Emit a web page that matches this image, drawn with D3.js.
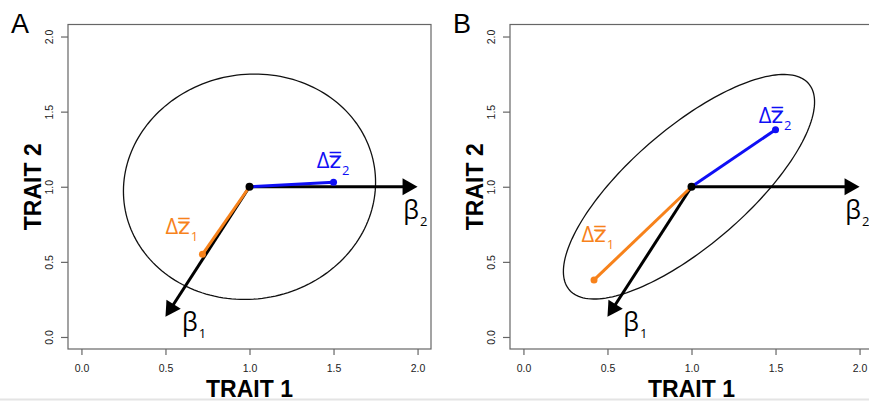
<!DOCTYPE html>
<html>
<head>
<meta charset="utf-8">
<script src="https://cdnjs.cloudflare.com/ajax/libs/d3/7.8.5/d3.min.js"></script>
<style>
body { margin: 0; background: #fff; }
svg { display: block; }
.tick text { font-family: "Liberation Sans", Arial, sans-serif; font-size: 10.5px; fill: #222; }
.tick line { stroke: #666; stroke-width: 1.2; }
.axisTitle { font-family: "Liberation Sans", Arial, sans-serif; font-weight: bold; font-size: 23px; }
.panelName { font-family: "Liberation Sans", Arial, sans-serif; font-size: 27px; }
.note { font-family: "Open Sans", "DejaVu Sans", sans-serif; font-size: 22px; }
</style>
</head>
<body>
<div id="chart"></div>
<script>
var svgWidth = 869;
var svgHeight = 401;

// data, in trait units
var panels = ["A", "B"];
var tickValues = [0, 0.5, 1, 1.5, 2];
var origin = [1, 1];
var beta1Tip = [0.5, 0.134];
var beta2Tip = [2.0, 1.0];
var dz1End = [[0.72, 0.55], [0.42, 0.38]];
var dz2End = [[1.5, 1.03], [1.5, 1.38]];
var ellCentre = [[1.0, 1.0], [0.985, 1.0]];
var ellAxes = [[0.765, 0.735], [0.99, 0.37]];
var ellAngle = [45, 45];

// where the annotations sit (trait units, left/baseline)
var dz1Label = [[0.5, 0.685], [0.345, 0.629]];
var dz2Label = [[1.4, 1.124], [1.4, 1.423]];
var beta1Label = [[0.598, 0.04], [0.594, 0.04]];
var beta2Label = [[1.915, 0.785], [1.915, 0.785]];

var frameLeft = [68, 510];
var frameW = 363;
var frameTop = 24.5;
var frameBottom = 349;

var orange = "#f7821b";
var blue = "#0f0ff5";

var svg = d3.select("#chart")
    .append("svg")
    .attr("width", svgWidth)
    .attr("height", svgHeight);

// faint page edge at the bottom
svg.append("line")
    .attr("x1", 0).attr("x2", svgWidth)
    .attr("y1", 399.5).attr("y2", 399.5)
    .attr("stroke", "#e4e4e4")
    .attr("stroke-width", 2);

var yScale = d3.scaleLinear()
    .domain([-0.08, 2.08])
    .range([frameBottom, frameTop]);

function drawArrow(g, x, y, from, to) {
    var x0 = x(from[0]), y0 = y(from[1]);
    var x1 = x(to[0]), y1 = y(to[1]);
    var dx = x1 - x0, dy = y1 - y0;
    var len = Math.sqrt(dx * dx + dy * dy);
    var ux = dx / len, uy = dy / len;
    var headL = 15, headW = 8.5;
    g.append("line")
        .attr("x1", x0).attr("y1", y0)
        .attr("x2", x1 - ux * (headL - 3)).attr("y2", y1 - uy * (headL - 3))
        .attr("stroke", "#000")
        .attr("stroke-width", 3);
    var bx = x1 - ux * headL, by = y1 - uy * headL;
    g.append("path")
        .attr("d", "M" + x1 + "," + y1 +
            "L" + (bx - uy * headW) + "," + (by + ux * headW) +
            "L" + (bx + uy * headW) + "," + (by - ux * headW) + "Z")
        .attr("fill", "#000");
}

function addLabel(g, x, y, pos, main, sub, color, size) {
    var t = g.append("text")
        .attr("class", "note")
        .attr("x", x(pos[0]))
        .attr("y", y(pos[1]))
        .attr("fill", color)
        .style("font-size", size + "px");
    t.append("tspan").text(main);
    t.append("tspan")
        .attr("font-size", "13px")
        .attr("dy", 7)
        .attr("dx", 1)
        .text(sub);
}

panels.forEach(function(name, i) {
    var xScale = d3.scaleLinear()
        .domain([-0.08, 2.08])
        .range([frameLeft[i], frameLeft[i] + frameW]);

    var g = svg.append("g");

    // frame
    g.append("rect")
        .attr("x", frameLeft[i])
        .attr("y", frameTop)
        .attr("width", frameW)
        .attr("height", frameBottom - frameTop)
        .attr("fill", "none")
        .attr("stroke", "#666")
        .attr("stroke-width", 1.2);

    // axes
    var bottomAxis = d3.axisBottom(xScale)
        .tickValues(tickValues)
        .tickSize(6)
        .tickPadding(10)
        .tickFormat(d3.format(".1f"));
    var xAxis = g.append("g")
        .attr("transform", `translate(0,${frameBottom})`)
        .call(bottomAxis);
    xAxis.select(".domain").remove();

    var leftAxis = d3.axisLeft(yScale)
        .tickValues(tickValues)
        .tickSize(7)
        .tickFormat(d3.format(".1f"));
    var yAxis = g.append("g")
        .attr("transform", `translate(${frameLeft[i]},0)`)
        .call(leftAxis);
    yAxis.select(".domain").remove();
    yAxis.selectAll(".tick text")
        .attr("x", 0)
        .attr("dy", "0.35em")
        .attr("text-anchor", "middle")
        .attr("transform", "translate(-19,0) rotate(-90)");

    // axis titles
    g.append("text")
        .attr("class", "axisTitle")
        .attr("x", xScale(1))
        .attr("y", 397)
        .attr("text-anchor", "middle")
        .text("TRAIT 1");
    g.append("text")
        .attr("class", "axisTitle")
        .attr("text-anchor", "middle")
        .attr("transform", `translate(${frameLeft[i] - 27},${yScale(1)}) rotate(-90)`)
        .text("TRAIT 2");

    g.append("text")
        .attr("class", "panelName")
        .attr("x", frameLeft[i] - 57)
        .attr("y", 33)
        .text(name);

    // G-matrix ellipse
    var phi = ellAngle[i] * Math.PI / 180;
    var a = ellAxes[i][0], b = ellAxes[i][1];
    var c = ellCentre[i];
    var pts = d3.range(0, 360, 2).map(function(deg) {
        var t = deg * Math.PI / 180;
        return [c[0] + a * Math.cos(t) * Math.cos(phi) - b * Math.sin(t) * Math.sin(phi),
                c[1] + a * Math.cos(t) * Math.sin(phi) + b * Math.sin(t) * Math.cos(phi)];
    });
    g.append("path")
        .datum(pts)
        .attr("d", d3.line()
            .x(d => xScale(d[0]))
            .y(d => yScale(d[1]))
            .curve(d3.curveLinearClosed))
        .attr("fill", "none")
        .attr("stroke", "#111")
        .attr("stroke-width", 1.3);

    // selection gradients
    drawArrow(g, xScale, yScale, origin, beta1Tip);
    drawArrow(g, xScale, yScale, origin, beta2Tip);

    // responses
    [[dz1End[i], orange], [dz2End[i], blue]].forEach(function(r) {
        g.append("line")
            .attr("x1", xScale(origin[0])).attr("y1", yScale(origin[1]))
            .attr("x2", xScale(r[0][0])).attr("y2", yScale(r[0][1]))
            .attr("stroke", r[1])
            .attr("stroke-width", 3);
        g.append("circle")
            .attr("cx", xScale(r[0][0]))
            .attr("cy", yScale(r[0][1]))
            .attr("r", 3.5)
            .attr("fill", r[1]);
    });

    g.append("circle")
        .attr("cx", xScale(origin[0]))
        .attr("cy", yScale(origin[1]))
        .attr("r", 4)
        .attr("fill", "#000");

    addLabel(g, xScale, yScale, dz1Label[i], "\u0394z\u033F", "1", orange, 22);
    addLabel(g, xScale, yScale, dz2Label[i], "\u0394z\u033F", "2", blue, 22);
    addLabel(g, xScale, yScale, beta1Label[i], "\u03B2", "1", "#000", 25);
    addLabel(g, xScale, yScale, beta2Label[i], "\u03B2", "2", "#000", 25);
});
</script>
</body>
</html>
